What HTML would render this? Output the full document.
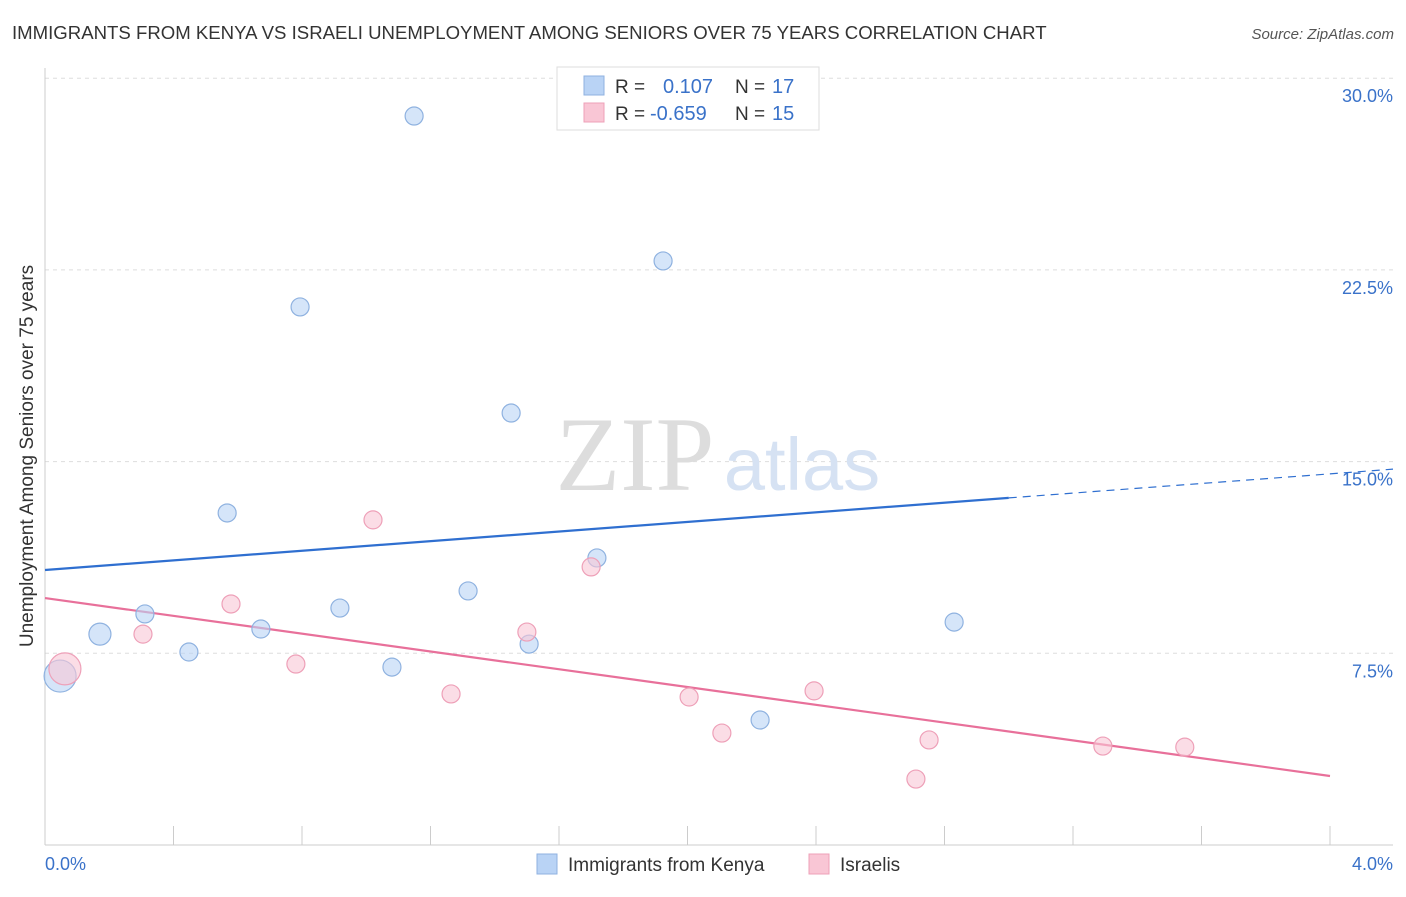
<!DOCTYPE html>
<html><head><meta charset="utf-8"><style>
body{margin:0;background:#fff;font-family:"Liberation Sans",sans-serif;}
</style></head><body>
<svg width="1406" height="892" xmlns="http://www.w3.org/2000/svg" font-family="Liberation Sans, sans-serif">
<text x="12" y="39" font-size="18.6" fill="#333">IMMIGRANTS FROM KENYA VS ISRAELI UNEMPLOYMENT AMONG SENIORS OVER 75 YEARS CORRELATION CHART</text>
<text x="1394" y="39" font-size="15" fill="#555" font-style="italic" text-anchor="end">Source: ZipAtlas.com</text>
<g id="grid"></g>
<text x="635" y="490" font-size="106" fill="#ddd" font-family="Liberation Serif, serif" text-anchor="middle">ZIP</text>
<text x="802" y="490" font-size="74" fill="#d6e2f3" text-anchor="middle">atlas</text>
<g id="lines"></g>
<g id="points"></g>
<text x="33" y="456" font-size="19" fill="#333" text-anchor="middle" transform="rotate(-90 33 456)">Unemployment Among Seniors over 75 years</text>
<g>
<rect x="557" y="67" width="262" height="63" fill="#fff" stroke="#ddd"/>
<rect x="584" y="76" width="20" height="19" fill="#b9d3f5" stroke="#8fb2e0"/>
<text x="615" y="93" font-size="19" fill="#333">R =</text>
<text x="663" y="93" font-size="20" fill="#3a72c9">0.107</text>
<text x="735" y="93" font-size="19" fill="#333">N =</text>
<text x="772" y="93" font-size="20" fill="#3a72c9">17</text>
<rect x="584" y="103" width="20" height="19" fill="#f9c6d5" stroke="#eea0b8"/>
<text x="615" y="120" font-size="19" fill="#333">R =</text>
<text x="650" y="120" font-size="20" fill="#3a72c9">-0.659</text>
<text x="735" y="120" font-size="19" fill="#333">N =</text>
<text x="772" y="120" font-size="20" fill="#3a72c9">15</text>
</g>
<g>
<rect x="537" y="854" width="20" height="20" fill="#b9d3f5" stroke="#8fb2e0"/>
<text x="568" y="871" font-size="19" fill="#333">Immigrants from Kenya</text>
<rect x="809" y="854" width="20" height="20" fill="#f9c6d5" stroke="#eea0b8"/>
<text x="840" y="871" font-size="19" fill="#333">Israelis</text>
</g>
</svg>
<script>
const yTicks=[7.5,15,22.5,30];
const yTickLabels=["7.5%","15.0%","22.5%","30.0%"];
const xTickLabels=["0.0%","4.0%"];
const kenyaX=[0.047,0.171,0.311,0.448,0.567,0.672,0.794,0.918,1.080,1.149,1.317,1.451,1.507,1.718,1.924,2.226,2.830];
const kenyaY=[6.61,8.25,9.04,7.55,12.99,8.45,21.05,9.27,6.96,28.52,9.94,16.90,7.86,11.23,22.85,4.89,8.72];
const kenyaR=[16,11,9,9,9,9,9,9,9,9,9,9,9,9,9,9,9];
const israelX=[0.062,0.305,0.579,0.781,1.021,1.264,1.500,1.700,2.005,2.107,2.394,2.711,2.752,3.293,3.548];
const israelY=[6.89,8.25,9.43,7.08,12.72,5.91,8.33,10.88,5.79,4.38,6.03,2.58,4.11,3.87,3.83];
const israelR=[16,9,9,9,9,9,9,9,9,9,9,9,9,9,9];
const kenyaTrend=[10.76,14.52];
const israelTrend=[9.66,2.70];
const NS="http://www.w3.org/2000/svg";
const xs=v=>45+v/4*1285, ys=v=>845-v/7.5*191.7;
function mk(t,a,p){const e=document.createElementNS(NS,t);for(const k in a)e.setAttribute(k,a[k]);p.appendChild(e);return e;}
const g=document.getElementById('grid');
yTicks.forEach((t,i)=>{
 const l=mk('line',{x1:45,x2:1393,y1:ys(t),y2:ys(t),stroke:'#ddd','stroke-dasharray':'4 4'},g);
 
 
 const tx=mk('text',{x:1393,y:ys(t)+24,'font-size':18,fill:'#3a72c9','text-anchor':'end'},g);
 tx.textContent=yTickLabels[i];
 
 
});
const ax=mk('line',{x1:45,x2:1393,y1:845,y2:845,stroke:'#ccc'},g);


const ay=mk('line',{x1:45,x2:45,y1:68,y2:845,stroke:'#ccc'},g);


for(let i=1;i<=10;i++){
 const t=mk('line',{x1:xs(i*0.4),x2:xs(i*0.4),y1:826,y2:845,stroke:'#ccc'},g);
 
 
}
[[0,'start',45],[4,'end',1393]].forEach((d,i)=>{
 const tx=mk('text',{x:d[2],y:870,'font-size':18,fill:'#3a72c9','text-anchor':d[1]},g);
 tx.textContent=xTickLabels[i];
 
 
});
const L=document.getElementById('lines');
const kb=mk('line',{x1:xs(0),y1:ys(kenyaTrend[0]),x2:xs(3.0),y2:ys(kenyaTrend[0]+(kenyaTrend[1]-kenyaTrend[0])*0.75),stroke:'#2f6fd0','stroke-width':2.2},L);


const kd=mk('line',{x1:xs(3.0),y1:ys(kenyaTrend[0]+(kenyaTrend[1]-kenyaTrend[0])*0.75),x2:1393,y2:ys(kenyaTrend[0]+(kenyaTrend[1]-kenyaTrend[0])*(1348/1285)),stroke:'#2f6fd0','stroke-width':1.2,'stroke-dasharray':'8 6'},L);


const il=mk('line',{x1:xs(0),y1:ys(israelTrend[0]),x2:xs(4),y2:ys(israelTrend[1]),stroke:'#e8709a','stroke-width':2.2},L);


const P=document.getElementById('points');
kenyaX.forEach((x,i)=>{
 const c=mk('circle',{cx:xs(x),cy:ys(kenyaY[i]),r:kenyaR[i],fill:'rgba(185,211,245,0.6)',stroke:'#8fb2e0','stroke-width':1.2},P);
 
 
});
israelX.forEach((x,i)=>{
 const c=mk('circle',{cx:xs(x),cy:ys(israelY[i]),r:israelR[i],fill:'rgba(249,198,213,0.6)',stroke:'#eea0b8','stroke-width':1.2},P);
 
 
});
</script>
</body></html>
